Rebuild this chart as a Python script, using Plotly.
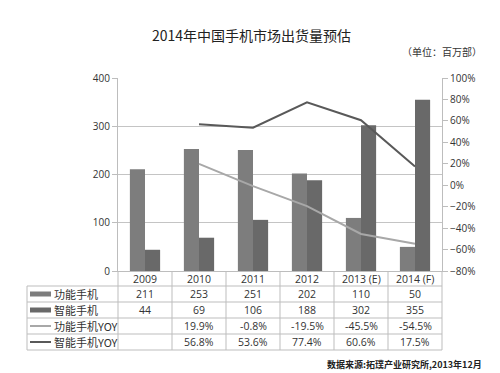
import plotly.graph_objects as go

years = ["2009", "2010", "2011", "2012", "2013 (E)", "2014 (F)"]
feature_phone = [211, 253, 251, 202, 110, 50]
smart_phone = [44, 69, 106, 188, 302, 355]
feature_yoy = [None, 19.9, -0.8, -19.5, -45.5, -54.5]
smart_yoy = [None, 56.8, 53.6, 77.4, 60.6, 17.5]
row_names = ["功能手机", "智能手机", "功能手机YOY", "智能手机YOY"]

# page body has an 8px default margin; work in screen pixels and offset
O = 8
W, H = 500 - O, 373 - O
L, R, T, B = 118, 442, 78, 271  # screen pixels of plot area
PW, PH = R - L, B - T

def px(x):
    return (x - L) / PW

def py(y):
    return (B - y) / PH

C_FEAT = "#7d7d7d"
C_SMART = "#696969"
C_FYOY = "#a8a8a8"
C_SYOY = "#595959"
GRID = "#c4c4c4"
TXT = "#333333"
CJK = "Noto Sans CJK SC"
NUMF = "Open Sans, Liberation Sans, sans-serif"

fig = go.Figure()
fig.add_trace(go.Bar(x=years, y=feature_phone, name=row_names[0], marker_color=C_FEAT,
                     marker_line_width=0))
fig.add_trace(go.Bar(x=years, y=smart_phone, name=row_names[1], marker_color=C_SMART,
                     marker_line_width=0))
fig.add_trace(go.Scatter(x=years, y=feature_yoy, name=row_names[2], mode="lines",
                         line=dict(color=C_FYOY, width=2), yaxis="y2"))
fig.add_trace(go.Scatter(x=years, y=smart_yoy, name=row_names[3], mode="lines",
                         line=dict(color=C_SYOY, width=2), yaxis="y2"))

shapes = []
line_style = dict(color="#bdbdbd", width=1)
for y in [286, 302, 318, 334, 350]:
    shapes.append(dict(type="line", xref="paper", yref="paper", x0=px(27), x1=px(R),
                       y0=py(y), y1=py(y), line=line_style))
shapes.append(dict(type="line", xref="paper", yref="paper", x0=px(27), x1=px(27),
                   y0=py(286), y1=py(350), line=line_style))
for i in range(len(years) + 1):
    xpx = L + i * PW / len(years)
    shapes.append(dict(type="line", xref="paper", yref="paper", x0=px(xpx), x1=px(xpx),
                       y0=py(B), y1=py(350), line=line_style))

annotations = []
for i, yr in enumerate(years):
    annotations.append(dict(x=i, y=py(278.5), xref="x", yref="paper", text=yr,
                            xanchor="center", yanchor="middle",
                            showarrow=False, font=dict(family=NUMF, size=10.5, color=TXT)))

def fmt_pct(v):
    return "" if v is None else f"{v:.1f}%"

rows = [
    [str(v) for v in feature_phone],
    [str(v) for v in smart_phone],
    [fmt_pct(v) for v in feature_yoy],
    [fmt_pct(v) for v in smart_yoy],
]
row_centers = [294, 310, 326, 342]
for r, yc in enumerate(row_centers):
    for i, t in enumerate(rows[r]):
        if t:
            annotations.append(dict(x=i, y=py(yc), xref="x", yref="paper", text=t,
                                    xanchor="center", yanchor="middle",
                                    showarrow=False, font=dict(family=NUMF, size=10.5, color=TXT)))
    annotations.append(dict(x=px(52), y=py(yc), xref="paper", yref="paper", text=row_names[r],
                            xanchor="left", yanchor="middle", showarrow=False,
                            font=dict(family=CJK, size=11, color=TXT)))

keys = [(C_FEAT, 5), (C_SMART, 5), (C_FYOY, 2), (C_SYOY, 2)]
for (c, w), yc in zip(keys, row_centers):
    shapes.append(dict(type="line", xref="paper", yref="paper", x0=px(30), x1=px(51),
                       y0=py(yc), y1=py(yc), line=dict(color=c, width=w)))

annotations.append(dict(x=px(251), y=py(35), xref="paper", yref="paper",
                        xanchor="center", yanchor="middle",
                        text="2014年中国手机市场出货量预估", showarrow=False,
                        font=dict(family=CJK, size=14, color="#222222")))
annotations.append(dict(x=px(484), y=py(52), xref="paper", yref="paper", xanchor="right",
                        yanchor="middle",
                        text="（单位：百万部）", showarrow=False,
                        font=dict(family=CJK, size=10, color=TXT)))
annotations.append(dict(x=px(484), y=py(364), xref="paper", yref="paper", xanchor="right",
                        yanchor="middle",
                        text="<b>数据来源:拓璞产业研究所,2013年12月</b>", showarrow=False,
                        font=dict(family=CJK, size=9, color="#222222")))

fig.update_layout(
    width=W, height=H,
    margin=dict(l=L - O, r=500 - R, t=T - O, b=373 - B, pad=0, autoexpand=False),
    paper_bgcolor="white", plot_bgcolor="white",
    barmode="group", bargap=0.44, bargroupgap=0,
    showlegend=False,
    xaxis=dict(type="category", range=[-0.5, 5.5], showticklabels=False, ticks="",
               automargin=False,
               showgrid=False, showline=True, linecolor="#bdbdbd", linewidth=1),
    yaxis=dict(range=[0, 400], dtick=100, showgrid=True, gridcolor=GRID, gridwidth=1,
               automargin=False,
               showline=True, linecolor="#bdbdbd", ticks="outside", ticklen=5,
               tickcolor="#bdbdbd", zeroline=False,
               tickfont=dict(family=NUMF, size=10, color=TXT)),
    yaxis2=dict(range=[-80, 100], dtick=20, overlaying="y", side="right", showgrid=False,
                automargin=False,
                showline=True, linecolor="#bdbdbd", ticks="outside", ticklen=5,
                tickcolor="#bdbdbd", zeroline=False, ticksuffix="%",
                tickfont=dict(family=NUMF, size=10, color=TXT)),
    shapes=shapes, annotations=annotations,
)

fig.write_html("out.html")
